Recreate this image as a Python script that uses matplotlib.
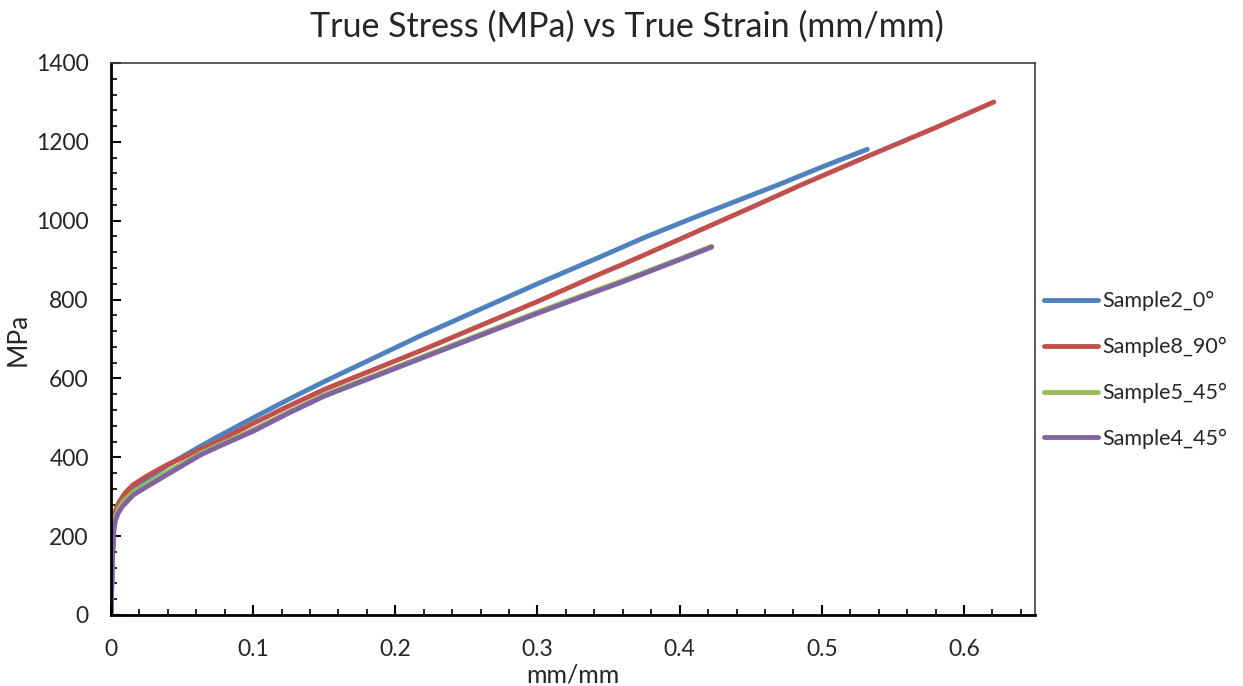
import matplotlib.pyplot as plt
from matplotlib.ticker import MultipleLocator

plt.rcParams['font.family'] = ['Lato', 'DejaVu Sans']

# true strain (mm/mm) and true stress (MPa) for each sample
strain_s2 = [0, 0.001, 0.002, 0.003, 0.005, 0.008, 0.015, 0.025, 0.04, 0.063, 0.075, 0.1,
             0.125, 0.15, 0.2176, 0.3, 0.344, 0.3585, 0.375, 0.408, 0.44, 0.47, 0.5, 0.532]
stress_s2 = [0, 150, 228, 250, 270, 290, 318, 345, 380, 428, 452, 500,
             547, 592, 708, 840, 908, 931, 957, 1005, 1050, 1092, 1136, 1181]

strain_s8 = [0, 0.001, 0.002, 0.003, 0.0045, 0.0063, 0.01, 0.0155, 0.025, 0.039, 0.063, 0.075,
             0.1, 0.125, 0.15, 0.2176, 0.3, 0.344, 0.3585, 0.375, 0.42, 0.45, 0.485, 0.532,
             0.58, 0.621]
stress_s8 = [0, 155, 238, 262, 278, 290, 310, 330, 352, 380, 420, 440,
             486, 530, 572, 670, 795, 865, 887, 913, 985, 1033, 1090, 1163,
             1236, 1301]

strain_s5 = [0, 0.001, 0.002, 0.003, 0.005, 0.008, 0.0155, 0.025, 0.039, 0.063, 0.075, 0.1,
             0.125, 0.15, 0.2176, 0.3, 0.344, 0.3585, 0.4, 0.4225]
stress_s5 = [0, 145, 222, 248, 268, 285, 312, 333, 362, 410, 430, 470,
             515, 558, 653, 768, 827, 846, 903, 935]

strain_s4 = [0, 0.001, 0.002, 0.003, 0.005, 0.008, 0.0155, 0.025, 0.039, 0.063, 0.075, 0.1,
             0.125, 0.15, 0.2176, 0.3, 0.344, 0.3585, 0.4, 0.4225]
stress_s4 = [0, 140, 215, 238, 258, 275, 304, 325, 355, 406, 426, 466,
             512, 555, 650, 765, 824, 843, 901, 933]

fig = plt.figure(figsize=(12.43, 6.86), dpi=100)
ax = fig.add_axes([0.0893, 0.1035, 0.7434, 0.8047])

ax.plot(strain_s2, stress_s2, color='#4F81BD', lw=3.5, label='Sample2_0°', solid_capstyle='round')
ax.plot(strain_s8, stress_s8, color='#C0504D', lw=3.5, label='Sample8_90°', solid_capstyle='round')
ax.plot(strain_s5, stress_s5, color='#9BBB59', lw=3.5, label='Sample5_45°', solid_capstyle='round')
ax.plot(strain_s4, stress_s4, color='#8064A2', lw=3.5, label='Sample4_45°', solid_capstyle='round')

ax.set_xlim(0, 0.65)
ax.set_ylim(0, 1400)
ax.xaxis.set_major_locator(MultipleLocator(0.1))
ax.xaxis.set_minor_locator(MultipleLocator(0.02))
ax.yaxis.set_major_locator(MultipleLocator(200))
ax.yaxis.set_minor_locator(MultipleLocator(40))
ax.set_xticks([0, 0.1, 0.2, 0.3, 0.4, 0.5, 0.6])
ax.set_xticklabels(['0', '0.1', '0.2', '0.3', '0.4', '0.5', '0.6'])
ax.tick_params(which='major', direction='in', length=7, width=1.5, labelsize=16.5,
               colors='black', labelcolor='#262626')
ax.tick_params(which='minor', direction='in', length=4, width=1.2, colors='black')
ax.tick_params(axis='y', which='major', pad=16)
ax.tick_params(axis='x', which='major', pad=17)

for side in ['left', 'bottom']:
    ax.spines[side].set_linewidth(2)
    ax.spines[side].set_color('black')
for side in ['top', 'right']:
    ax.spines[side].set_linewidth(1.2)
    ax.spines[side].set_color('#404040')

fig.text(0.504, 0.985, 'True Stress (MPa) vs True Strain (mm/mm)', fontsize=24.5,
         color='#262626', ha='center', va='top')
ax.set_xlabel('mm/mm', fontsize=18, color='#262626', labelpad=3)
ax.set_ylabel('MPa', fontsize=19, color='#262626', labelpad=4)

fig.legend(loc='center left', bbox_to_anchor=(1044 / 1243, 316 / 686), frameon=False,
           borderpad=0, borderaxespad=0, fontsize=15.5, handlelength=2.5,
           handletextpad=0.23, labelspacing=1.2, labelcolor='#262626')

fig.savefig('out.png', dpi=100)
